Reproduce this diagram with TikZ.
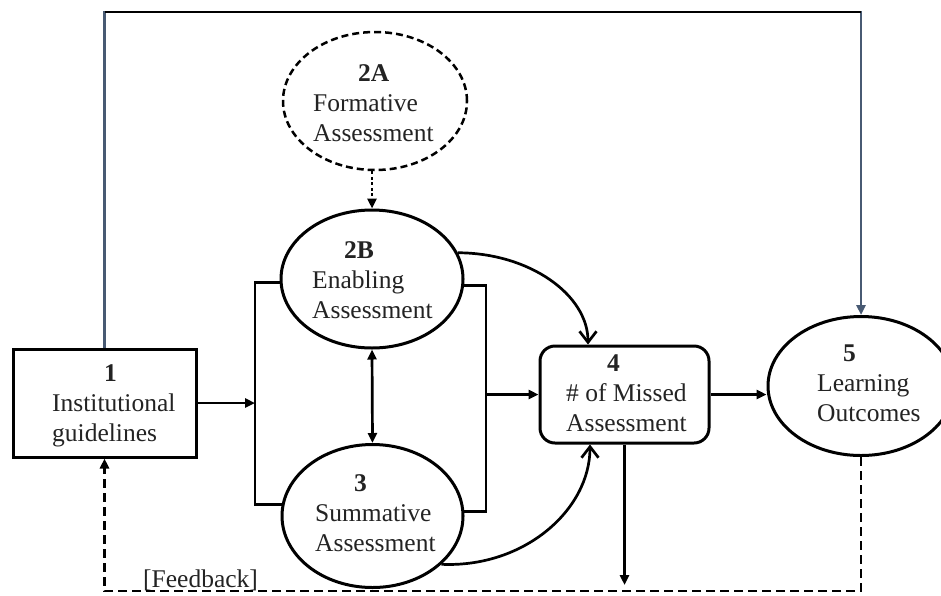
\documentclass[tikz,border=0pt]{standalone}
\usepackage{fontspec}
\setmainfont{Liberation Serif}
\usetikzlibrary{arrows.meta,shapes.geometric}
\definecolor{slate}{RGB}{72,90,115}
\definecolor{txt}{RGB}{35,35,35}
\begin{document}
\begin{tikzpicture}[x=1pt,y=-1pt,
  outl/.style={draw=black, line width=3pt, inner sep=0pt},
  ell/.style={outl, ellipse},
  txtnode/.style={inner sep=0pt, anchor=west, align=left, text=txt, font=\fontsize{25.5}{30}\selectfont},
  conn/.style={line width=2.7pt, draw=black},
  arr/.style={-{Triangle[length=10pt,width=9pt]}},
  curvarr/.style={-{Straight Barb[length=11pt,width=17pt]}},
]
\fill[white] (0,0) rectangle (941,595);
\useasboundingbox (0,0) rectangle (941,595);

% shapes
\node[outl, rectangle, minimum width=183pt, minimum height=108pt] (b1) at (104.5,403) {};
\node[outl, ellipse, line width=2.5pt, dash pattern=on 7pt off 4pt, minimum width=184pt, minimum height=138pt] (e2a) at (375,101) {};
\node[ell, minimum width=182pt, minimum height=138pt] (e2b) at (372,279) {};
\node[ell, minimum width=181pt, minimum height=143pt] (e3) at (372.5,516) {};
\node[outl, rectangle, rounded corners=15pt, minimum width=169pt, minimum height=97pt] (b4) at (624.5,394.5) {};
\node[ell, minimum width=186pt, minimum height=139pt] (e5) at (861,386) {};

% texts
\node[txtnode] (t1) at (52,405) {\strut\hspace*{52pt}\textbf{1}\\Institutional\\guidelines\strut};
\node[txtnode] (t2a) at (313,105) {\strut\hspace*{45pt}\textbf{2A}\\Formative\\Assessment\strut};
\node[txtnode] (t2b) at (312,282) {\strut\hspace*{32pt}\textbf{2B}\\Enabling\\Assessment\strut};
\node[txtnode] (t3) at (315,515) {\strut\hspace*{39pt}\textbf{3}\\Summative\\Assessment\strut};
\node[txtnode] (t4) at (566,395) {\strut\hspace*{41pt}\textbf{4}\\\# of Missed\\Assessment\strut};
\node[txtnode] (t5) at (817,385) {\strut\hspace*{26pt}\textbf{5}\\Learning\\Outcomes\strut};
\node[txtnode, anchor=base west] (fb) at (143,587) {[Feedback]};

% helper coordinates
\coordinate (ytop) at (0,12);
\coordinate (lbx) at (255,0);
\coordinate (rbx) at (486,0);
\coordinate (c4top) at (588,0);
\coordinate (c4bot) at (590,0);
\coordinate (ydown) at (0,585);
\coordinate (yfb) at (0,591);

% top loop
\draw[slate, line width=2.6pt, arr] (b1.north) |- (e5.north |- ytop) -- (e5.north);
\draw[black, line width=2.8pt] (b1.north |- ytop) -- (e5.north |- ytop);

% brackets
\draw[conn] (e2b.182) -- (e2b.182 -| lbx) -- (e3.173 -| lbx) -- (e3.173);
\draw[conn] (e2b.-4) -- (e2b.-4 -| rbx) -- (e3.3 -| rbx) -- (e3.3);

% straight connectors
\draw[conn, arr] (b1.east) -- (b1.east -| lbx);
\draw[conn, arr] (b4.west -| rbx) -- (b4.west);
\draw[conn, {Triangle[length=10pt,width=9pt]}-{Triangle[length=10pt,width=9pt]}] (e2b.south) -- (e3.north);
\draw[conn, dash pattern=on 3pt off 2.5pt, arr] (e2b.north |- e2a.south) -- (e2b.north);
\draw[conn, arr] (b4.east) -- (b4.east -| e5.west);
\draw[conn, arr] (b4.south) -- (b4.south |- ydown);

% curved connectors
\draw[conn, curvarr] (e2b.17) .. controls (530,253) and (588,295) .. (b4.north -| c4top);
\draw[conn, curvarr] (e3.-35) .. controls (524,568) and (590,510) .. (b4.south -| c4bot);

% feedback
\draw[conn, dash pattern=on 9pt off 5pt, arr] (e5.south) |- (b1.south |- yfb) -- (b1.south);
\end{tikzpicture}
\end{document}
